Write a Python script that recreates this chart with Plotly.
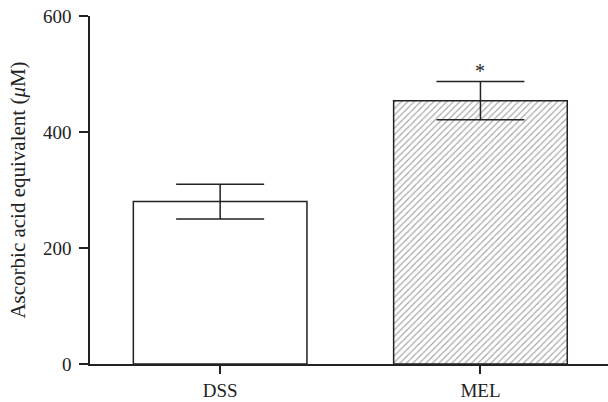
import plotly.graph_objects as go

categories = ["DSS", "MEL"]
values = [280, 454]
errors = [30, 33]
patterns = ["", "/"]
significance = ["", "*"]
y_ticks = [0, 200, 400, 600]

font_family = "Liberation Serif, Times New Roman, serif"

fig = go.Figure()
fig.add_trace(go.Bar(
    x=[0, 1],
    y=values,
    width=0.667,
    marker=dict(
        color="white",
        line=dict(color="#222222", width=1.5),
        pattern=dict(shape=patterns, fgcolor="#444444", bgcolor="white",
                     size=4.6, solidity=0.25),
    ),
    error_y=dict(type="data", array=errors, visible=True,
                 color="#222222", thickness=1.5, width=44),
    showlegend=False,
))

for i, s in enumerate(significance):
    if s:
        fig.add_annotation(x=i, y=values[i] + errors[i], text=s, showarrow=False,
                           yanchor="bottom", yshift=-2,
                           font=dict(family=font_family, size=20, color="#222222"))

fig.update_layout(
    width=608, height=402,
    margin=dict(l=90, r=0, t=16, b=38),
    paper_bgcolor="white", plot_bgcolor="white",
    font=dict(family=font_family, size=19, color="#222222"),
)
fig.update_xaxes(
    range=[-0.5, 1.49],
    tickmode="array", tickvals=[0, 1], ticktext=categories,
    ticks="outside", ticklen=8, tickwidth=1.5, tickcolor="#222222",
    showline=True, linecolor="#222222", linewidth=1.5,
    showgrid=False, zeroline=False,
    tickfont=dict(size=19),
    automargin=False,
)
fig.update_yaxes(
    range=[0, 600],
    tickmode="array", tickvals=y_ticks,
    ticks="outside", ticklen=9, tickwidth=1.5, tickcolor="#222222",
    showline=True, linecolor="#222222", linewidth=1.5,
    showgrid=False, zeroline=False,
    tickfont=dict(size=19),
    ticklabelstandoff=4,
    automargin=False,
    title=dict(text="Ascorbic acid equivalent (<i>μ</i>M)", font=dict(size=21), standoff=12),
)

fig.write_html("out.html", config={"displayModeBar": False},
               post_script="document.body.style.margin='0';")
